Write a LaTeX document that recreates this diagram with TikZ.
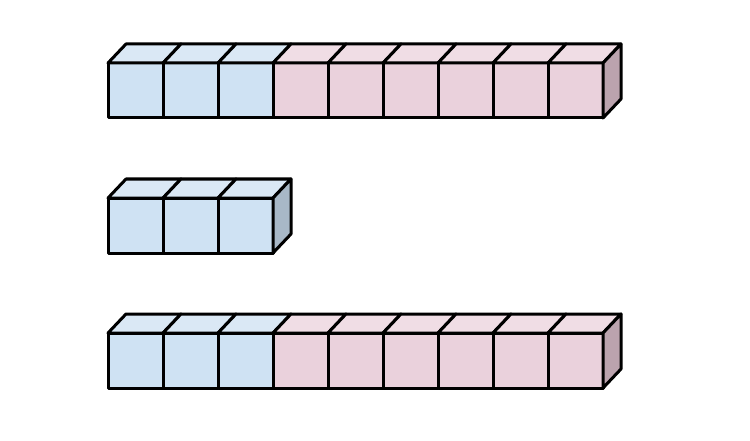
\documentclass[tikz,border=0pt]{standalone}
\usepackage{tikz}
\definecolor{bluefront}{HTML}{CFE2F3}
\definecolor{bluetop}{HTML}{DAE8F5}
\definecolor{blueside}{HTML}{A8B8C7}
\definecolor{pinkfront}{HTML}{EAD1DC}
\definecolor{pinktop}{HTML}{F0DDE5}
\definecolor{pinkside}{HTML}{BBA3AE}
\begin{document}
\begin{tikzpicture}[x=1pt, y=1pt, line width=3pt, line join=round]
    \useasboundingbox (0,0) rectangle (750,440);

    % Rows of unit cubes: bottom edge / blue cubes / all cubes
    \foreach \y/\nb/\total in {322/3/9, 187/3/3, 52/3/9} {
        \foreach \i in {1,...,\total} {
            \pgfmathsetmacro{\x}{108+55*(\i-1)}
            \ifnum\i>\nb \def\c{pink}\else \def\c{blue}\fi
            \filldraw[fill=\c front] (\x,\y) rectangle ++(55,55);
            \filldraw[fill=\c top] (\x,\y+55) -- ++(18,19) -- ++(55,0) -- ++(-18,-19) -- cycle;
        }
        % Right side of the last cube
        \ifnum\total>\nb \def\c{pink}\else \def\c{blue}\fi
        \pgfmathsetmacro{\xr}{108+55*\total}
        \filldraw[fill=\c side] (\xr,\y) -- ++(18,19) -- ++(0,55) -- ++(-18,-19) -- cycle;
    }
\end{tikzpicture}
\end{document}
